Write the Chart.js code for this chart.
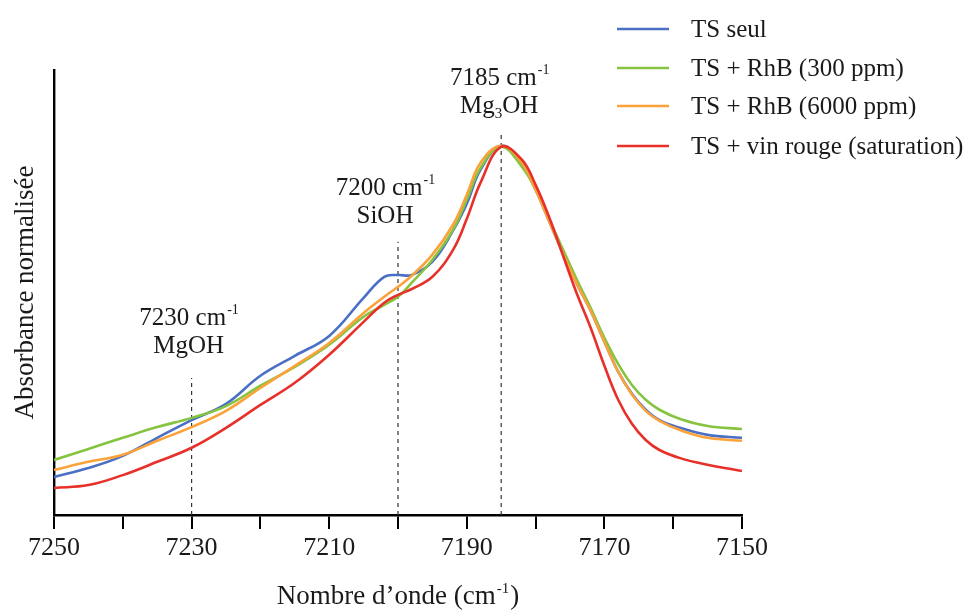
<!DOCTYPE html>
<html>
<head>
<meta charset="utf-8">
<script src="https://cdn.jsdelivr.net/npm/chart.js@4.4.1/dist/chart.umd.min.js"></script>
<style>
  html, body { margin: 0; padding: 0; background: #ffffff; }
  #wrap { width: 966px; height: 610px; }
</style>
</head>
<body>
<div id="wrap"><canvas id="c" width="966" height="610"></canvas></div>
<script>
// ---- data ----
const wavenumbers = [7250,7245,7240,7235,7230,7225,7220,7215,7210,7205,7202,7200,7198,7195,7192,7190,7188,7185,
                     7182,7180,7178,7176,7174,7172,7170,7168,7166,7164,7162,7159,7155,7150];
const tsSeul   = [0.103,0.127,0.160,0.209,0.257,0.301,0.377,0.431,0.485,0.588,0.645,0.650,0.650,0.686,0.770,0.843,0.935,1.000,
                  0.949,0.881,0.794,0.707,0.626,0.553,0.469,0.388,0.328,0.285,0.257,0.236,0.217,0.209];
const rhb300   = [0.149,0.179,0.209,0.238,0.263,0.295,0.350,0.401,0.461,0.537,0.569,0.591,0.629,0.691,0.772,0.854,0.940,0.997,
                  0.943,0.881,0.799,0.718,0.637,0.561,0.480,0.409,0.352,0.312,0.285,0.260,0.241,0.233];
const rhb6000  = [0.122,0.144,0.163,0.201,0.238,0.282,0.344,0.404,0.466,0.547,0.591,0.618,0.648,0.705,0.786,0.867,0.954,1.000,
                  0.954,0.881,0.794,0.707,0.626,0.553,0.469,0.388,0.326,0.282,0.255,0.230,0.209,0.201];
const vinRouge = [0.073,0.081,0.108,0.144,0.182,0.236,0.298,0.358,0.434,0.523,0.575,0.596,0.612,0.645,0.718,0.802,0.900,0.997,
                  0.962,0.894,0.805,0.702,0.599,0.507,0.404,0.312,0.247,0.203,0.176,0.154,0.136,0.119];
const seriesLabels = ['TS seul', 'TS + RhB (300 ppm)', 'TS + RhB (6000 ppm)', 'TS + vin rouge (saturation)'];
const tickLabels = [7250, 7230, 7210, 7190, 7170, 7150];
const markerWave = [7230, 7200, 7185];
const markerTop  = [0.371, 0.740, 1.035];
const markerText = ['7230 cm', '7200 cm', '7185 cm'];
const markerName = ['MgOH', 'SiOH', 'Mg_3OH'];

// ---- styles ----
const colors = ['#4a6fc4', '#86c440', '#fba23a', '#e8302a'];
const drawOrder = [3, 2, 1, 0];
const SERIF = '"Liberation Serif", "DejaVu Serif", serif';

function pts(ys) { return wavenumbers.map((x, i) => ({ x: x, y: ys[i] })); }
const allSeries = [tsSeul, rhb300, rhb6000, vinRouge];

const datasets = allSeries.map((s, i) => ({
  label: seriesLabels[i],
  data: pts(s),
  borderColor: colors[i],
  backgroundColor: colors[i],
  borderWidth: 2.6,
  pointRadius: 0,
  fill: false,
  tension: 0.4,
  order: drawOrder[i]
}));
markerWave.forEach((w, i) => {
  datasets.push({
    label: 'marker' + i,
    data: [{ x: w, y: 0 }, { x: w, y: markerTop[i] }],
    borderColor: '#333333',
    borderWidth: 1.2,
    borderDash: [4, 4],
    pointRadius: 0,
    fill: false,
    tension: 0,
    order: 10
  });
});

// label placement (pixel offsets relative to marker value)
const markerLabelDx = [-3, -13, -2];
const markerLabelBase = [0.515, 0.867, 1.165];

function drawSupText(ctx, main, sup, cx, baseline, size) {
  ctx.font = size + 'px ' + SERIF;
  const w1 = ctx.measureText(main).width;
  ctx.font = Math.round(size * 0.55) + 'px ' + SERIF;
  const w2 = ctx.measureText(sup).width;
  const total = w1 + w2;
  let x = cx - total / 2;
  ctx.textAlign = 'left';
  ctx.textBaseline = 'alphabetic';
  ctx.font = size + 'px ' + SERIF;
  ctx.fillText(main, x, baseline);
  ctx.font = Math.round(size * 0.55) + 'px ' + SERIF;
  ctx.fillText(sup, x + w1 + 1, baseline - size * 0.42);
}

function drawSubName(ctx, name, cx, baseline, size) {
  const parts = name.split('_');
  ctx.textAlign = 'left';
  ctx.textBaseline = 'alphabetic';
  if (parts.length === 1) {
    ctx.font = size + 'px ' + SERIF;
    const w = ctx.measureText(name).width;
    ctx.fillText(name, cx - w / 2, baseline);
    return;
  }
  const a = parts[0], sub = parts[1].charAt(0), b = parts[1].slice(1);
  ctx.font = size + 'px ' + SERIF;
  const wa = ctx.measureText(a).width, wb = ctx.measureText(b).width;
  ctx.font = Math.round(size * 0.6) + 'px ' + SERIF;
  const ws = ctx.measureText(sub).width;
  let x = cx - (wa + ws + wb) / 2;
  ctx.font = size + 'px ' + SERIF;
  ctx.fillText(a, x, baseline);
  ctx.font = Math.round(size * 0.6) + 'px ' + SERIF;
  ctx.fillText(sub, x + wa, baseline + size * 0.22);
  ctx.font = size + 'px ' + SERIF;
  ctx.fillText(b, x + wa + ws, baseline);
}

const textPlugin = {
  id: 'textPlugin',
  afterDraw(chart) {
    const ctx = chart.ctx;
    const xs = chart.scales.x, ys = chart.scales.y;
    ctx.save();
    ctx.fillStyle = '#1a1a1a';
    // peak annotations
    markerWave.forEach((w, i) => {
      const cx = xs.getPixelForValue(w) + markerLabelDx[i];
      const b1 = ys.getPixelForValue(markerLabelBase[i]);
      drawSupText(ctx, markerText[i], '-1', cx, b1, 25);
      drawSubName(ctx, markerName[i], cx, b1 + 28, 25);
    });
    // x axis title
    const area = chart.chartArea;
    const tcx = (area.left + area.right) / 2;
    const tSize = 27;
    ctx.font = tSize + 'px ' + SERIF;
    const m1 = 'Nombre d\u2019onde (cm';
    const w1 = ctx.measureText(m1).width;
    ctx.font = '15px ' + SERIF;
    const w2 = ctx.measureText('-1').width;
    ctx.font = tSize + 'px ' + SERIF;
    const w3 = ctx.measureText(')').width;
    let x = tcx - (w1 + w2 + w3 + 2) / 2;
    const base = 604;
    ctx.textAlign = 'left';
    ctx.textBaseline = 'alphabetic';
    ctx.fillText(m1, x, base);
    ctx.font = '15px ' + SERIF;
    ctx.fillText('-1', x + w1 + 1, base - 11);
    ctx.font = tSize + 'px ' + SERIF;
    ctx.fillText(')', x + w1 + w2 + 2, base);
    // legend
    const rows = [29, 68, 106, 146];
    seriesLabels.forEach((lab, i) => {
      ctx.strokeStyle = colors[i];
      ctx.lineWidth = 2.6;
      ctx.beginPath();
      ctx.moveTo(617, rows[i]);
      ctx.lineTo(669, rows[i]);
      ctx.stroke();
      ctx.fillStyle = '#1a1a1a';
      ctx.font = '25px ' + SERIF;
      ctx.textBaseline = 'middle';
      ctx.fillText(lab, 691, rows[i] + 1);
    });
    ctx.restore();
  }
};

new Chart(document.getElementById('c'), {
  type: 'line',
  data: { datasets: datasets },
  options: {
    responsive: false,
    animation: false,
    layout: { padding: { top: 70, right: 224, left: 0, bottom: 0 } },
    plugins: { legend: { display: false }, tooltip: { enabled: false } },
    scales: {
      x: {
        type: 'linear',
        reverse: true,
        min: 7150,
        max: 7250,
        afterFit(s) { s.height = 95; },
        border: { display: true, color: '#000000', width: 2.4 },
        grid: { display: true, drawOnChartArea: false, drawTicks: true, tickLength: 14, color: '#000000', lineWidth: 2 },
        ticks: {
          stepSize: 10,
          autoSkip: false,
          maxRotation: 0,
          padding: 4,
          color: '#1a1a1a',
          font: { family: SERIF, size: 26 },
          callback: (v) => tickLabels.includes(v) ? String(v) : ''
        }
      },
      y: {
        type: 'linear',
        min: 0,
        max: 1.205,
        afterFit(s) { s.width = 54; },
        border: { display: true, color: '#000000', width: 2.4 },
        grid: { display: false },
        ticks: { display: false },
        title: {
          display: true,
          text: 'Absorbance normalisée',
          color: '#1a1a1a',
          font: { family: SERIF, size: 27 },
          padding: { top: 10, bottom: 0 }
        }
      }
    }
  },
  plugins: [textPlugin]
});
</script>
</body>
</html>
